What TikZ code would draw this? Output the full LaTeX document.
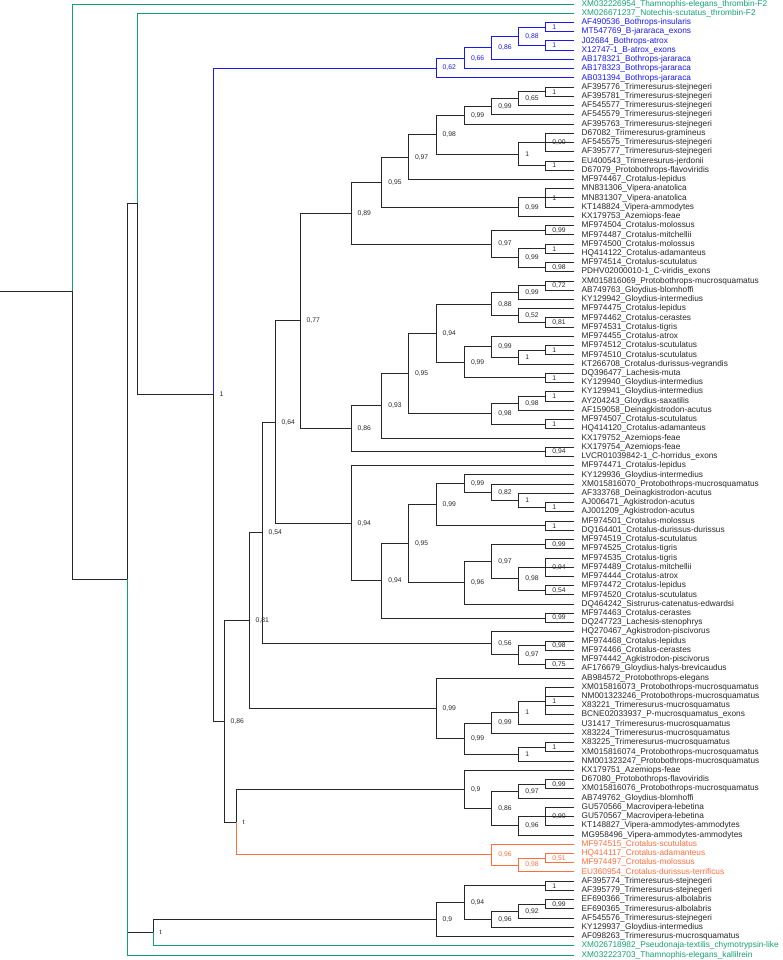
\documentclass[tikz,border=0pt]{standalone}
\usepackage{fontspec}
\setmainfont{Liberation Sans}
\definecolor{tgreen}{RGB}{20,160,115}
\definecolor{tblue}{RGB}{25,25,235}
\definecolor{torange}{RGB}{255,110,60}
\definecolor{tblack}{RGB}{40,40,40}
\newcommand\lf[4][tblack]{%
  \pgfmathsetmacro\tmpy{4+(#3-1)*9.233}%
  \expandafter\xdef\csname Y#2\endcsname{\tmpy}%
  \coordinate (#2) at (574,\tmpy);
  \node[leaflab,text=#1] (#2t) at (581.5,\tmpy) {#4};
}
\newcommand\nd[6][tblack]{%
  \pgfmathsetmacro\tmpy{(\csname Y#4\endcsname+\csname Y#5\endcsname)/2}%
  \expandafter\xdef\csname Y#2\endcsname{\tmpy}%
  \coordinate (#2) at (#3,\tmpy);
  \node[suplab,text=#1] (#2s) at (#3,\tmpy) {#6};
}
\newcommand\br[3][tblack]{\draw[branch,draw=#1] (#2) |- (#3);}
\begin{document}
\begin{tikzpicture}[x=1pt,y=-1pt,
  leaflab/.style={anchor=west,inner sep=0pt,font=\fontsize{8.3}{9}\selectfont},
  suplab/.style={anchor=west,inner sep=0pt,xshift=6.5pt,font=\fontsize{6.8}{7}\selectfont},
  branch/.style={line width=0.9pt,line cap=rect}]
\useasboundingbox (0,0) rectangle (782,960);
% leaves
\lf[tgreen]{l1}{1}{XM032226954\_Thamnophis-elegans\_thrombin-F2}
\lf[tgreen]{l2}{2}{XM026671237\_Notechis-scutatus\_thrombin-F2}
\lf[tblue]{l3}{3}{AF490536\_Bothrops-insularis}
\lf[tblue]{l4}{4}{MT547769\_B-jararaca\_exons}
\lf[tblue]{l5}{5}{J02684\_Bothrops-atrox}
\lf[tblue]{l6}{6}{X12747-1\_B-atrox\_exons}
\lf[tblue]{l7}{7}{AB178321\_Bothrops-jararaca}
\lf[tblue]{l8}{8}{AB178323\_Bothrops-jararaca}
\lf[tblue]{l9}{9}{AB031394\_Bothrops-jararaca}
\lf{l10}{10}{AF395776\_Trimeresurus-stejnegeri}
\lf{l11}{11}{AF395781\_Trimeresurus-stejnegeri}
\lf{l12}{12}{AF545577\_Trimeresurus-stejnegeri}
\lf{l13}{13}{AF545579\_Trimeresurus-stejnegeri}
\lf{l14}{14}{AF395763\_Trimeresurus-stejnegeri}
\lf{l15}{15}{D67082\_Trimeresurus-gramineus}
\lf{l16}{16}{AF545575\_Trimeresurus-stejnegeri}
\lf{l17}{17}{AF395777\_Trimeresurus-stejnegeri}
\lf{l18}{18}{EU400543\_Trimeresurus-jerdonii}
\lf{l19}{19}{D67079\_Protobothrops-flavoviridis}
\lf{l20}{20}{MF974467\_Crotalus-lepidus}
\lf{l21}{21}{MN831306\_Vipera-anatolica}
\lf{l22}{22}{MN831307\_Vipera-anatolica}
\lf{l23}{23}{KT148824\_Vipera-ammodytes}
\lf{l24}{24}{KX179753\_Azemiops-feae}
\lf{l25}{25}{MF974504\_Crotalus-molossus}
\lf{l26}{26}{MF974487\_Crotalus-mitchellii}
\lf{l27}{27}{MF974500\_Crotalus-molossus}
\lf{l28}{28}{HQ414122\_Crotalus-adamanteus}
\lf{l29}{29}{MF974514\_Crotalus-scutulatus}
\lf{l30}{30}{PDHV02000010-1\_C-viridis\_exons}
\lf{l31}{31}{XM015816069\_Protobothrops-mucrosquamatus}
\lf{l32}{32}{AB749763\_Gloydius-blomhoffi}
\lf{l33}{33}{KY129942\_Gloydius-intermedius}
\lf{l34}{34}{MF974475\_Crotalus-lepidus}
\lf{l35}{35}{MF974462\_Crotalus-cerastes}
\lf{l36}{36}{MF974531\_Crotalus-tigris}
\lf{l37}{37}{MF974455\_Crotalus-atrox}
\lf{l38}{38}{MF974512\_Crotalus-scutulatus}
\lf{l39}{39}{MF974510\_Crotalus-scutulatus}
\lf{l40}{40}{KT266708\_Crotalus-durissus-vegrandis}
\lf{l41}{41}{DQ396477\_Lachesis-muta}
\lf{l42}{42}{KY129940\_Gloydius-intermedius}
\lf{l43}{43}{KY129941\_Gloydius-intermedius}
\lf{l44}{44}{AY204243\_Gloydius-saxatilis}
\lf{l45}{45}{AF159058\_Deinagkistrodon-acutus}
\lf{l46}{46}{MF974507\_Crotalus-scutulatus}
\lf{l47}{47}{HQ414120\_Crotalus-adamanteus}
\lf{l48}{48}{KX179752\_Azemiops-feae}
\lf{l49}{49}{KX179754\_Azemiops-feae}
\lf{l50}{50}{LVCR01039842-1\_C-horridus\_exons}
\lf{l51}{51}{MF974471\_Crotalus-lepidus}
\lf{l52}{52}{KY129936\_Gloydius-intermedius}
\lf{l53}{53}{XM015816070\_Protobothrops-mucrosquamatus}
\lf{l54}{54}{AF333768\_Deinagkistrodon-acutus}
\lf{l55}{55}{AJ006471\_Agkistrodon-acutus}
\lf{l56}{56}{AJ001209\_Agkistrodon-acutus}
\lf{l57}{57}{MF974501\_Crotalus-molossus}
\lf{l58}{58}{DQ164401\_Crotalus-durissus-durissus}
\lf{l59}{59}{MF974519\_Crotalus-scutulatus}
\lf{l60}{60}{MF974525\_Crotalus-tigris}
\lf{l61}{61}{MF974535\_Crotalus-tigris}
\lf{l62}{62}{MF974489\_Crotalus-mitchellii}
\lf{l63}{63}{MF974444\_Crotalus-atrox}
\lf{l64}{64}{MF974472\_Crotalus-lepidus}
\lf{l65}{65}{MF974520\_Crotalus-scutulatus}
\lf{l66}{66}{DQ464242\_Sistrurus-catenatus-edwardsi}
\lf{l67}{67}{MF974463\_Crotalus-cerastes}
\lf{l68}{68}{DQ247723\_Lachesis-stenophrys}
\lf{l69}{69}{HQ270467\_Agkistrodon-piscivorus}
\lf{l70}{70}{MF974468\_Crotalus-lepidus}
\lf{l71}{71}{MF974466\_Crotalus-cerastes}
\lf{l72}{72}{MF974442\_Agkistrodon-piscivorus}
\lf{l73}{73}{AF176679\_Gloydius-halys-brevicaudus}
\lf{l74}{74}{AB984572\_Protobothrops-elegans}
\lf{l75}{75}{XM015816073\_Protobothrops-mucrosquamatus}
\lf{l76}{76}{NM001323246\_Protobothrops-mucrosquamatus}
\lf{l77}{77}{X83221\_Trimeresurus-mucrosquamatus}
\lf{l78}{78}{BCNE02033937\_P-mucrosquamatus\_exons}
\lf{l79}{79}{U31417\_Trimeresurus-mucrosquamatus}
\lf{l80}{80}{X83224\_Trimeresurus-mucrosquamatus}
\lf{l81}{81}{X83225\_Trimeresurus-mucrosquamatus}
\lf{l82}{82}{XM015816074\_Protobothrops-mucrosquamatus}
\lf{l83}{83}{NM001323247\_Protobothrops-mucrosquamatus}
\lf{l84}{84}{KX179751\_Azemiops-feae}
\lf{l85}{85}{D67080\_Protobothrops-flavoviridis}
\lf{l86}{86}{XM015816076\_Protobothrops-mucrosquamatus}
\lf{l87}{87}{AB749762\_Gloydius-blomhoffi}
\lf{l88}{88}{GU570566\_Macrovipera-lebetina}
\lf{l89}{89}{GU570567\_Macrovipera-lebetina}
\lf{l90}{90}{KT148827\_Vipera-ammodytes-ammodytes}
\lf{l91}{91}{MG958496\_Vipera-ammodytes-ammodytes}
\lf[torange]{l92}{92}{MF974515\_Crotalus-scutulatus}
\lf[torange]{l93}{93}{HQ414117\_Crotalus-adamanteus}
\lf[torange]{l94}{94}{MF974497\_Crotalus-molossus}
\lf[torange]{l95}{95}{EU360954\_Crotalus-durissus-terrificus}
\lf{l96}{96}{AF395774\_Trimeresurus-stejnegeri}
\lf{l97}{97}{AF395779\_Trimeresurus-stejnegeri}
\lf{l98}{98}{EF690366\_Trimeresurus-albolabris}
\lf{l99}{99}{EF690365\_Trimeresurus-albolabris}
\lf{l100}{100}{AF545576\_Trimeresurus-stejnegeri}
\lf{l101}{101}{KY129937\_Gloydius-intermedius}
\lf{l102}{102}{AF098263\_Trimeresurus-mucrosquamatus}
\lf[tgreen]{l103}{103}{XM026718982\_Pseudonaja-textilis\_chymotrypsin-like}
\lf[tgreen]{l104}{104}{XM032223703\_Thamnophis-elegans\_kallilrein}
% Bothrops (blue)
\nd[tblue]{a34}{545.7}{l3}{l4}{1} \br[tblue]{a34}{l3} \br[tblue]{a34}{l4}
\nd[tblue]{a56}{545.7}{l5}{l6}{1} \br[tblue]{a56}{l5} \br[tblue]{a56}{l6}
\nd[tblue]{a36}{518.7}{a34}{a56}{0,88} \br[tblue]{a36}{a34} \br[tblue]{a36}{a56}
\nd[tblue]{a37}{491.7}{a36}{l7}{0,86} \br[tblue]{a37}{a36} \br[tblue]{a37}{l7}
\nd[tblue]{a38}{464.3}{a37}{l8}{0,66} \br[tblue]{a38}{a37} \br[tblue]{a38}{l8}
\nd[tblue]{a39}{436}{a38}{l9}{0,62} \br[tblue]{a39}{a38} \br[tblue]{a39}{l9}
% block b
\nd{b1011}{545.7}{l10}{l11}{1} \br{b1011}{l10} \br{b1011}{l11}
\nd{b1012}{518.7}{b1011}{l12}{0,65} \br{b1012}{b1011} \br{b1012}{l12}
\nd{b1013}{491.7}{b1012}{l13}{0,99} \br{b1013}{b1012} \br{b1013}{l13}
\nd{b1014}{464.3}{b1013}{l14}{0,99} \br{b1014}{b1013} \br{b1014}{l14}
\nd{b1517}{545.7}{l15}{l17}{0,00} \br{b1517}{l15} \br{b1517}{l16} \br{b1517}{l17}
\nd{b1819}{545.7}{l18}{l19}{1} \br{b1819}{l18} \br{b1819}{l19}
\nd{b1519}{518.7}{b1517}{b1819}{1} \br{b1519}{b1517} \br{b1519}{b1819}
\nd{b1019}{436}{b1014}{b1519}{0,98} \br{b1019}{b1014} \br{b1019}{b1519}
\nd{b1020}{408.3}{b1019}{l20}{0,97} \br{b1020}{b1019} \br{b1020}{l20}
\nd{b2123}{545.7}{l21}{l23}{1} \br{b2123}{l21} \br{b2123}{l22} \br{b2123}{l23}
\nd{b2124}{518.7}{b2123}{l24}{0,99} \br{b2124}{b2123} \br{b2124}{l24}
\nd{b1024}{381.7}{b1020}{b2124}{0,95} \br{b1024}{b1020} \br{b1024}{b2124}
\nd{b2526}{545.7}{l25}{l26}{0,99} \br{b2526}{l25} \br{b2526}{l26}
\nd{b2728}{545.7}{l27}{l28}{1} \br{b2728}{l27} \br{b2728}{l28}
\nd{b2930}{545.7}{l29}{l30}{0,98} \br{b2930}{l29} \br{b2930}{l30}
\nd{b2730}{518.7}{b2728}{b2930}{0,99} \br{b2730}{b2728} \br{b2730}{b2930}
\nd{b2530}{491.7}{b2526}{b2730}{0,97} \br{b2530}{b2526} \br{b2530}{b2730}
\nd{b1030}{351}{b1024}{b2530}{0,89} \br{b1030}{b1024} \br{b1030}{b2530}
% block c
\nd{c3132}{545.7}{l31}{l32}{0,72} \br{c3132}{l31} \br{c3132}{l32}
\nd{c3133}{518.7}{c3132}{l33}{0,99} \br{c3133}{c3132} \br{c3133}{l33}
\nd{c3536}{545.7}{l35}{l36}{0,81} \br{c3536}{l35} \br{c3536}{l36}
\nd{c3436}{518.7}{l34}{c3536}{0,52} \br{c3436}{l34} \br{c3436}{c3536}
\nd{c3136}{491.7}{c3133}{c3436}{0,88} \br{c3136}{c3133} \br{c3136}{c3436}
\nd{c3839}{545.7}{l38}{l39}{1} \br{c3839}{l38} \br{c3839}{l39}
\nd{c3840}{518.7}{c3839}{l40}{1} \br{c3840}{c3839} \br{c3840}{l40}
\nd{c3740}{491.7}{l37}{c3840}{0,99} \br{c3740}{l37} \br{c3740}{c3840}
\nd{c4142}{545.7}{l41}{l42}{1} \br{c4142}{l41} \br{c4142}{l42}
\nd{c3742}{464.3}{c3740}{c4142}{0,99} \br{c3742}{c3740} \br{c3742}{c4142}
\nd{c3142}{436}{c3136}{c3742}{0,94} \br{c3142}{c3136} \br{c3142}{c3742}
\nd{c4344}{545.7}{l43}{l44}{1} \br{c4344}{l43} \br{c4344}{l44}
\nd{c4345}{518.7}{c4344}{l45}{0,98} \br{c4345}{c4344} \br{c4345}{l45}
\nd{c4647}{545.7}{l46}{l47}{1} \br{c4647}{l46} \br{c4647}{l47}
\nd{c4347}{491.7}{c4345}{c4647}{0,98} \br{c4347}{c4345} \br{c4347}{c4647}
\nd{c3147}{408.3}{c3142}{c4347}{0,95} \br{c3147}{c3142} \br{c3147}{c4347}
\nd{c3148}{381.7}{c3147}{l48}{0,93} \br{c3148}{c3147} \br{c3148}{l48}
\nd{c4950}{545.7}{l49}{l50}{0,94} \br{c4950}{l49} \br{c4950}{l50}
\nd{c3150}{351}{c3148}{c4950}{0,86} \br{c3150}{c3148} \br{c3150}{c4950}
% block d
\nd{d5556}{545.7}{l55}{l56}{1} \br{d5556}{l55} \br{d5556}{l56}
\nd{d5456}{518.7}{l54}{d5556}{1} \br{d5456}{l54} \br{d5456}{d5556}
\nd{d5356}{491.7}{l53}{d5456}{0,82} \br{d5356}{l53} \br{d5356}{d5456}
\nd{d5256}{464.3}{l52}{d5356}{0,99} \br{d5256}{l52} \br{d5256}{d5356}
\nd{d5758}{545.7}{l57}{l58}{1} \br{d5758}{l57} \br{d5758}{l58}
\nd{d5258}{436}{d5256}{d5758}{0,99} \br{d5258}{d5256} \br{d5258}{d5758}
\nd{d5960}{545.7}{l59}{l60}{0,99} \br{d5960}{l59} \br{d5960}{l60}
\nd{d6163}{545.7}{l61}{l63}{0,94} \br{d6163}{l61} \br{d6163}{l62} \br{d6163}{l63}
\nd{d6465}{545.7}{l64}{l65}{0,54} \br{d6465}{l64} \br{d6465}{l65}
\nd{d6165}{518.7}{d6163}{d6465}{0,98} \br{d6165}{d6163} \br{d6165}{d6465}
\nd{d5965}{491.7}{d5960}{d6165}{0,97} \br{d5965}{d5960} \br{d5965}{d6165}
\nd{d5966}{464.3}{d5965}{l66}{0,96} \br{d5966}{d5965} \br{d5966}{l66}
\nd{d5266}{408.3}{d5258}{d5966}{0,95} \br{d5266}{d5258} \br{d5266}{d5966}
\nd{d6768}{545.7}{l67}{l68}{0,99} \br{d6768}{l67} \br{d6768}{l68}
\nd{d5268}{381.7}{d5266}{d6768}{0,94} \br{d5268}{d5266} \br{d5268}{d6768}
\nd{d5168}{351}{l51}{d5268}{0,94} \br{d5168}{l51} \br{d5168}{d5268}
% block e
\nd{e7071}{545.7}{l70}{l71}{0,98} \br{e7071}{l70} \br{e7071}{l71}
\nd{e7273}{545.7}{l72}{l73}{0,75} \br{e7273}{l72} \br{e7273}{l73}
\nd{e7073}{518.7}{e7071}{e7273}{0,97} \br{e7073}{e7071} \br{e7073}{e7273}
\nd{e6973}{491.7}{l69}{e7073}{0,56} \br{e6973}{l69} \br{e6973}{e7073}
% block f
\nd{f7578}{545.7}{l75}{l78}{1} \br{f7578}{l75} \br{f7578}{l76} \br{f7578}{l77} \br{f7578}{l78}
\nd{f7579}{518.7}{f7578}{l79}{1} \br{f7579}{f7578} \br{f7579}{l79}
\nd{f7580}{491.7}{f7579}{l80}{0,99} \br{f7580}{f7579} \br{f7580}{l80}
\nd{f8182}{545.7}{l81}{l82}{1} \br{f8182}{l81} \br{f8182}{l82}
\nd{f8183}{518.7}{f8182}{l83}{1} \br{f8183}{f8182} \br{f8183}{l83}
\nd{f7583}{464.3}{f7580}{f8183}{0,99} \br{f7583}{f7580} \br{f7583}{f8183}
\nd{f7483}{436}{l74}{f7583}{0,99} \br{f7483}{l74} \br{f7483}{f7583}
% block g
\nd{g8586}{545.7}{l85}{l86}{0,99} \br{g8586}{l85} \br{g8586}{l86}
\nd{g8587}{518.7}{g8586}{l87}{0,97} \br{g8587}{g8586} \br{g8587}{l87}
\nd{g8890}{545.7}{l88}{l90}{0,90} \br{g8890}{l88} \br{g8890}{l89} \br{g8890}{l90}
\nd{g8891}{518.7}{g8890}{l91}{0,96} \br{g8891}{g8890} \br{g8891}{l91}
\nd{g8591}{491.7}{g8587}{g8891}{0,86} \br{g8591}{g8587} \br{g8591}{g8891}
\nd{g8491}{464.3}{l84}{g8591}{0,9} \br{g8491}{l84} \br{g8491}{g8591}
% orange
\nd[torange]{o9394}{545.7}{l93}{l94}{0,51} \br[torange]{o9394}{l93} \br[torange]{o9394}{l94}
\nd[torange]{o9395}{518.7}{o9394}{l95}{0,98} \br[torange]{o9395}{o9394} \br[torange]{o9395}{l95}
\nd[torange]{o9295}{491.7}{l92}{o9395}{0,96} \br[torange]{o9295}{l92} \br[torange]{o9295}{o9395}
% block h
\nd{h9697}{545.7}{l96}{l97}{1} \br{h9697}{l96} \br{h9697}{l97}
\nd{h9899}{545.7}{l98}{l99}{0,99} \br{h9899}{l98} \br{h9899}{l99}
\nd{h98100}{518.7}{h9899}{l100}{0,92} \br{h98100}{h9899} \br{h98100}{l100}
\nd{h98101}{491.7}{h98100}{l101}{0,96} \br{h98101}{h98100} \br{h98101}{l101}
\nd{h96101}{464.3}{h9697}{h98101}{0,94} \br{h96101}{h9697} \br{h96101}{h98101}
\nd{h96102}{436}{h96101}{l102}{0,9} \br{h96102}{h96101} \br{h96102}{l102}
% backbone
\nd{n077}{300}{b1030}{c3150}{0,77} \br{n077}{b1030} \br{n077}{c3150}
\nd{n064}{275}{n077}{d5168}{0,64} \br{n064}{n077} \br{n064}{d5168}
\nd{n054}{262}{n064}{e6973}{0,54} \br{n054}{n064} \br{n054}{e6973}
\nd{n081}{249}{n054}{f7483}{0,81} \br{n081}{n054} \br{n081}{f7483}
\nd{nt1}{236}{g8491}{o9295}{t} \br{nt1}{g8491} \br[torange]{nt1}{o9295}
\nd{n086}{224}{n081}{nt1}{0,86} \br{n086}{n081} \br{n086}{nt1}
\nd{n1}{213}{a39}{n086}{1} \br[tblue]{n1}{a39} \br{n1}{n086}
\nd{nt2}{153}{h96102}{l103}{t} \br{nt2}{h96102} \br[tgreen]{nt2}{l103}
% outgroups (green)
\nd{ng2}{137}{l2}{n1}{} \br[tgreen]{ng2}{l2} \br{ng2}{n1}
\nd{nk}{127}{ng2}{l104}{} \br{nk}{ng2} \br{nk}{nt2} \br[tgreen]{nk}{l104}
\nd{root}{72}{l1}{nk}{} \br[tgreen]{root}{l1} \br{root}{nk}
\coordinate (stem) at (0,\csname Yroot\endcsname);
\draw[branch,draw=tblack] (stem) -- (root);
\end{tikzpicture}
\end{document}
